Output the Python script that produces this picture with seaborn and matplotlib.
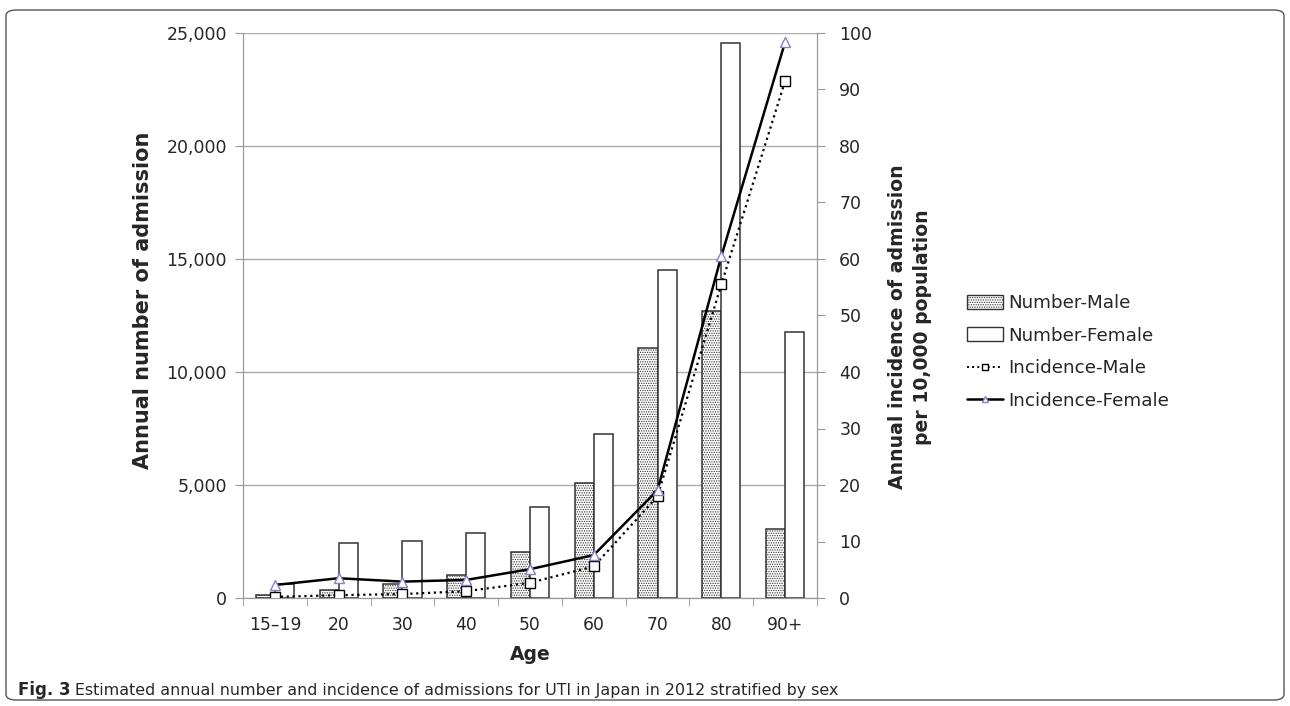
import numpy as np
import pandas as pd
import matplotlib
matplotlib.use('Agg')
import matplotlib.pyplot as plt
import seaborn as sns
from matplotlib.patches import Patch, FancyBboxPatch
from matplotlib.lines import Line2D
from matplotlib.ticker import MultipleLocator, FixedLocator

# data
ages = ['15\u201319', '20', '30', '40', '50', '60', '70', '80', '90+']
number_male = [150, 350, 620, 1000, 2030, 5100, 11060, 12700, 3050]
number_female = [600, 2430, 2520, 2880, 4030, 7250, 14500, 24550, 11750]
incidence_male = [0.2, 0.5, 0.7, 1.2, 2.7, 5.6, 18.0, 55.5, 91.5]
incidence_female = [2.3, 3.5, 2.9, 3.2, 5.1, 7.6, 19.1, 60.5, 98.4]

sns.set_style('white')
plt.rcParams['font.family'] = ['DejaVu Sans']
plt.rcParams['hatch.linewidth'] = 0.6
plt.rcParams['hatch.color'] = '#555555'

df = pd.DataFrame({
    'Age': ages * 2,
    'Number': number_male + number_female,
    'Sex': ['Number-Male'] * len(ages) + ['Number-Female'] * len(ages),
})

fig = plt.figure(figsize=(12.9, 7.06), dpi=100)
ax = fig.add_axes([243 / 1290, 1 - 598 / 706, 574 / 1290, 565 / 706])

sns.barplot(data=df, x='Age', y='Number', hue='Sex', order=ages,
            palette=['white', 'white'], width=0.6, edgecolor='#333333',
            linewidth=1.1, legend=False, ax=ax)
n = len(ages)
for bar in ax.patches[:n]:
    bar.set_hatch('.......')

ax.set_xlim(-0.5, n - 0.5)
ax.set_ylim(0, 25000)
ax.yaxis.set_major_locator(MultipleLocator(5000))
ax.set_yticklabels([f'{int(v):,}' for v in ax.get_yticks()])
ax.grid(axis='y', color='#ababab', linewidth=1)
ax.set_axisbelow(True)
ax.xaxis.set_minor_locator(FixedLocator(np.arange(-0.5, n, 1.0)))
ax.tick_params(axis='x', which='major', length=0, pad=13, labelsize=12.3)
ax.tick_params(axis='x', which='minor', length=6, color='#999999', direction='out', bottom=True)
ax.tick_params(axis='y', length=6, color='#999999', direction='out', left=True,
               labelsize=12.5, pad=5.5)
for s in ['left', 'right', 'bottom']:
    ax.spines[s].set_color('#999999')
ax.spines['top'].set_visible(False)
ax.set_xlabel('Age', fontsize=13.5, fontweight='bold')
ax.set_ylabel('Annual number of admission', fontsize=15, fontweight='bold')
ax.yaxis.set_label_coords(-0.157, 0.527)
ax.xaxis.set_label_coords(0.5, -0.083)

ax2 = ax.twinx()
xpos = np.arange(n)
ax2.plot(xpos, incidence_male, linestyle=':', color='black', linewidth=1.6,
         marker='s', markersize=6.5, markerfacecolor='white', markeredgecolor='black')
ax2.plot(xpos, incidence_female, linestyle='-', color='black', linewidth=1.8,
         marker='^', markersize=6.5, markerfacecolor='white', markeredgecolor='#8e7cc3')
ax2.set_ylim(0, 100)
ax2.yaxis.set_major_locator(MultipleLocator(10))
ax2.tick_params(axis='y', length=6, color='#999999', direction='out', right=True,
                labelsize=12.5, pad=10)
for s in ['left', 'right', 'bottom']:
    ax2.spines[s].set_color('#999999')
ax2.spines['top'].set_visible(False)
ax2.set_ylabel('Annual incidence of admission\nper 10,000 population', fontsize=13.6,
               fontweight='bold', rotation=90, linespacing=1.45)
ax2.yaxis.set_label_coords(1.123, 0.48)

handles = [
    Patch(facecolor='white', edgecolor='#333333', hatch='.......', label='Number-Male'),
    Patch(facecolor='white', edgecolor='#333333', label='Number-Female'),
    Line2D([], [], linestyle=':', color='black', linewidth=1.4, marker='s', markersize=5,
           markerfacecolor='white', markeredgecolor='black', label='Incidence-Male'),
    Line2D([], [], linestyle='-', color='black', linewidth=1.8, marker='^', markersize=5,
           markerfacecolor='white', markeredgecolor='#8e7cc3', label='Incidence-Female'),
]
fig.legend(handles=handles, loc='center left', bbox_to_anchor=(951 / 1290, 1 - 352 / 706),
           frameon=False, fontsize=13.2, handlelength=1.95, handleheight=0.8,
           handletextpad=0.25, labelspacing=0.8)

# caption and frame
cap_font = ['Liberation Sans Narrow', 'DejaVu Sans']
fig.text(18 / 1290, 1 - 690 / 706, 'Fig. 3', fontsize=12, fontweight='bold', va='center',
         family=cap_font)
fig.text(75 / 1290, 1 - 690 / 706,
         'Estimated annual number and incidence of admissions for UTI in Japan in 2012 stratified by sex',
         fontsize=11.4, va='center', family=cap_font)
frame = FancyBboxPatch((6 / 1290, 6 / 706), 1278 / 1290, 690 / 706,
                       boxstyle='round,pad=0,rounding_size=0.008', transform=fig.transFigure,
                       facecolor='none', edgecolor='#555555', linewidth=1)
fig.patches.append(frame)

fig.savefig('out.png', dpi=100)
